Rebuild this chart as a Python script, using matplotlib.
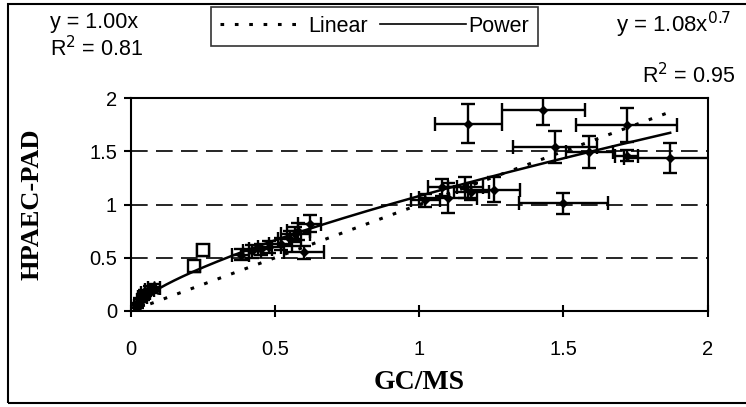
import numpy as np
import matplotlib.pyplot as plt
from matplotlib.lines import Line2D
from matplotlib.patches import Rectangle

# low-range samples (star markers)
low_x = [0.02, 0.03, 0.04, 0.05, 0.065, 0.08]
low_y = [0.05, 0.10, 0.13, 0.17, 0.20, 0.22]
low_xerr = [0.01, 0.01, 0.015, 0.015, 0.015, 0.02]
low_yerr = [0.02, 0.02, 0.03, 0.03, 0.03, 0.03]

# square markers
sq_x = [0.22, 0.25]
sq_y = [0.42, 0.57]
sq_xerr = [0.02, 0.02]
sq_yerr = [0.05, 0.05]

# mid-range samples
mid_x = [0.38, 0.42, 0.45, 0.48, 0.52, 0.55, 0.57, 0.60, 0.58, 0.62]
mid_y = [0.53, 0.56, 0.58, 0.60, 0.63, 0.68, 0.72, 0.55, 0.75, 0.82]
mid_xerr = [0.03, 0.03, 0.04, 0.04, 0.04, 0.04, 0.05, 0.07, 0.04, 0.04]
mid_yerr = [0.05, 0.06, 0.05, 0.06, 0.06, 0.07, 0.07, 0.06, 0.08, 0.08]

# high-range samples
hi_x = [1.02, 1.08, 1.10, 1.16, 1.18, 1.26, 1.17, 1.43, 1.72, 1.47, 1.59, 1.72, 1.87, 1.50]
hi_y = [1.04, 1.16, 1.06, 1.16, 1.12, 1.14, 1.76, 1.89, 1.75, 1.54, 1.49, 1.46, 1.44, 1.01]
hi_xerr = [0.05, 0.05, 0.10, 0.06, 0.06, 0.09, 0.115, 0.145, 0.175, 0.145, 0.08, 0.04, 0.16, 0.155]
hi_yerr = [0.06, 0.08, 0.14, 0.10, 0.08, 0.12, 0.18, 0.14, 0.16, 0.15, 0.15, 0.05, 0.14, 0.10]

# trend line coefficients
lin_a = 1.00
pow_a, pow_b = 1.08, 0.7
fit_x = np.linspace(0.02, 1.87, 200)

xticks = [0, 0.5, 1, 1.5, 2]
yticks = [0, 0.5, 1, 1.5, 2]
tick_labels = ['0', '0.5', '1', '1.5', '2']

plt.rcParams['font.family'] = ['Liberation Sans', 'DejaVu Sans']

fig = plt.figure(figsize=(7.46, 4.07), dpi=100)
ax = fig.add_axes([0.1756, 0.236, 0.773, 0.523])

ekw = dict(fmt='none', ecolor='black', elinewidth=1.7, capsize=5, capthick=1.7)
ax.errorbar(low_x, low_y, xerr=low_xerr, yerr=low_yerr, **ekw)
ax.errorbar(sq_x, sq_y, xerr=sq_xerr, yerr=sq_yerr, **ekw)
ax.errorbar(mid_x, mid_y, xerr=mid_xerr, yerr=mid_yerr, **ekw)
ax.errorbar(hi_x, hi_y, xerr=hi_xerr, yerr=hi_yerr, **ekw)
ax.plot(low_x, low_y, ls='none', marker='*', ms=10, color='black')
ax.plot(sq_x, sq_y, ls='none', marker='s', ms=9, mfc='white', mec='black', mew=1.7)
ax.plot(mid_x, mid_y, ls='none', marker='D', ms=4, color='black')
ax.plot(hi_x, hi_y, ls='none', marker='D', ms=4, color='black')

ax.plot(fit_x, lin_a * fit_x, color='black', ls=(0, (1.2, 3.5)), lw=2.2)
ax.plot(fit_x, pow_a * fit_x ** pow_b, color='black', ls='-', lw=1.8)

ax.set_xlim(0, 2)
ax.set_ylim(0, 2)
ax.set_xticks(xticks)
ax.set_yticks(yticks)
ax.set_xticklabels(tick_labels)
ax.set_yticklabels(tick_labels)
ax.tick_params(axis='x', direction='inout', length=8, width=1.5, labelsize=14.5, pad=17)
ax.tick_params(axis='y', direction='out', length=5, width=1.5, labelsize=14.5, pad=5)
for y in [0.5, 1, 1.5]:
    ax.axhline(y, color='black', lw=1.2, ls=(0, (10, 5)), zorder=0)
for s in ax.spines.values():
    s.set_linewidth(1.5)

ax.set_xlabel('GC/MS', family='Liberation Serif', fontweight='bold', fontsize=20, labelpad=8)
ax.set_ylabel('HPAEC-PAD', family='Liberation Serif', fontweight='bold', fontsize=19, labelpad=33)

fig.text(0.067, 0.945, 'y = 1.00x', fontsize=15.5, va='center')
fig.text(0.067, 0.88, 'R$^2$ = 0.81', fontsize=15.5, va='center')
fig.text(0.826, 0.94, 'y = 1.08x$^{0.7}$', fontsize=16, va='center')
fig.text(0.985, 0.815, 'R$^2$ = 0.95', fontsize=15.5, va='center', ha='right')

handles = [Line2D([], [], color='black', ls=(0, (1.2, 3.5)), lw=2.2),
           Line2D([], [], color='black', ls='-', lw=1.2)]
leg = fig.legend(handles, ['Linear', 'Power'], ncol=2, loc='center',
                 bbox_to_anchor=(0.502, 0.935), fontsize=15.5, frameon=True,
                 fancybox=False, edgecolor='black', handlelength=4.0,
                 handletextpad=0.1, columnspacing=0.6, borderpad=0.4)
leg.get_frame().set_linewidth(1.2)

fig.patches.append(Rectangle((0.011, 0.01), 1.2, 0.98, transform=fig.transFigure,
                             fill=False, edgecolor='black', lw=1.5))

fig.savefig('out.png', dpi=100)
